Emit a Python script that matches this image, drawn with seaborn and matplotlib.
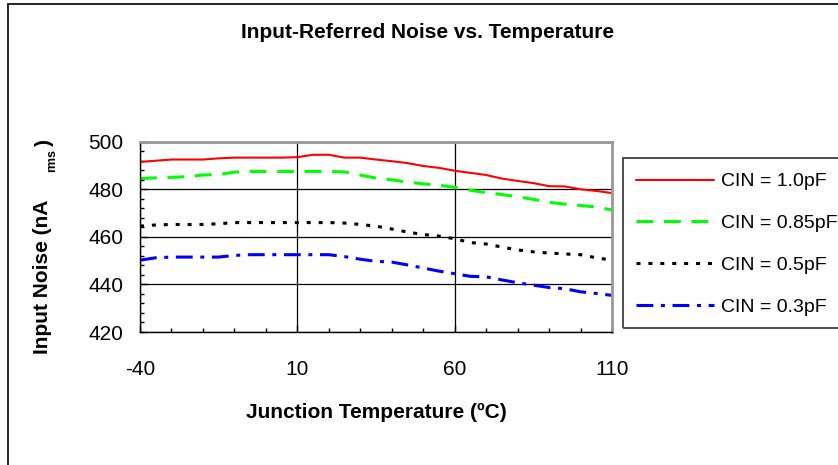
import numpy as np
import pandas as pd
import matplotlib
matplotlib.use('Agg')
import matplotlib.pyplot as plt
from matplotlib.lines import Line2D
from matplotlib.patches import Rectangle
from matplotlib.ticker import FixedLocator, MultipleLocator
import seaborn as sns

sns.set_style('white')
plt.rcParams['font.family'] = ['Liberation Sans', 'DejaVu Sans']
plt.rcParams['text.color'] = 'black'
plt.rcParams['xtick.color'] = 'black'
plt.rcParams['ytick.color'] = 'black'
plt.rcParams['axes.unicode_minus'] = False

# junction temperature, every 5 degC
temps = list(range(-40, 115, 5))
xticks = [-40, 10, 60, 110]

# input noise (nA rms)
cin_10 = [491.5, 492, 492.5, 492.5, 492.5, 493, 493.3, 493.3, 493.3, 493.3,
          493.5, 494.5, 494.5, 493.3, 493.3, 492.5, 491.8, 491, 489.8, 489,
          487.8, 486.9, 486, 484.5, 483.5, 482.6, 481.3, 481.2, 480, 479.3, 478.4]
cin_085 = [484.5, 484.8, 485, 485.3, 486, 486.2, 487.2, 487.5, 487.5, 487.5,
           487.5, 487.5, 487.5, 487.3, 486, 484.7, 484, 483, 482.3, 481.7,
           480.8, 479.6, 478.6, 477.8, 476.8, 475.8, 474.5, 473.8, 473.2, 472.5, 471.3]
cin_05 = [464.5, 465, 465.2, 465.2, 465.2, 465.5, 466, 466, 466, 466,
          466, 466, 466, 465.8, 465.2, 464.5, 463.3, 462, 461, 460.3,
          459.2, 457.6, 457, 455.7, 454.5, 453.7, 453.2, 452.8, 452.5, 451.2, 450.2]
cin_03 = [450.2, 451.2, 451.5, 451.5, 451.5, 451.5, 452.2, 452.5, 452.5, 452.5,
          452.5, 452.5, 452.5, 451.7, 450.6, 449.7, 449.4, 448.2, 446.9, 445.6,
          444.5, 443.4, 443.2, 441.9, 440.7, 439.7, 438.7, 438.2, 436.9, 436.2, 435.4]

labels = ['CIN = 1.0pF', 'CIN = 0.85pF', 'CIN = 0.5pF', 'CIN = 0.3pF']
colors = ['#FF0000', '#00FF00', '#000000', '#0000FF']
styles = ['-', (0, (5.5, 3.5)), (0, (1.3, 2.6)), (0, (5.5, 2.5, 1.3, 2.5))]
widths = [1.5, 2.2, 2.2, 2.2]

fig = plt.figure(figsize=(8.38, 4.65), dpi=100)
ax = fig.add_axes([140/838, 1-332/465, 472/838, 190.3/465])

series = [cin_10, cin_085, cin_05, cin_03]
for vals, lab, col, ls, lw in zip(series, labels, colors, styles, widths):
    sns.lineplot(x=temps, y=vals, color=col, linestyle=ls, lw=lw,
                 label=lab, ax=ax, legend=False)

ax.set_xlim(-40, 110)
ax.set_ylim(420, 500)
ax.xaxis.set_major_locator(FixedLocator(xticks))
ax.xaxis.set_minor_locator(MultipleLocator(10))
ax.yaxis.set_major_locator(MultipleLocator(20))
ax.yaxis.set_minor_locator(MultipleLocator(4))
ax.grid(True, which='major', color='black', lw=0.9)
ax.tick_params(which='both', direction='in', left=True, bottom=True,
               colors='black', labelsize=15)
ax.tick_params(which='major', length=5, width=1)
ax.tick_params(which='minor', length=3, width=1)
ax.tick_params(axis='x', pad=20)
ax.tick_params(axis='y', pad=12)
for s in ['top', 'right']:
    ax.spines[s].set_color('#999999')
    ax.spines[s].set_linewidth(2)
for s in ['left', 'bottom']:
    ax.spines[s].set_color('black')
    ax.spines[s].set_linewidth(1)
ax.set_xlabel('')
ax.set_ylabel('')

# titles and axis labels
fig.text(428/838, 1-32/465, 'Input-Referred Noise vs. Temperature',
         ha='center', va='center', fontsize=15, fontweight='bold')
fig.text(376/838, 1-412/465, 'Junction Temperature (ºC)',
         ha='center', va='center', fontsize=15, fontweight='bold')
fig.text(43/838, 1-277/465, 'Input Noise (nA', rotation=90,
         ha='center', va='center', fontsize=15, fontweight='bold')
fig.text(52/838, 1-161/465, 'rms', rotation=90,
         ha='center', va='center', fontsize=9, fontweight='bold')
fig.text(44/838, 1-142/465, ')', rotation=90,
         ha='center', va='center', fontsize=15, fontweight='bold')

# legend box running off the right edge
fig.patches.append(Rectangle((623/838, 1-328/465), 240/838, 170/465,
                             transform=fig.transFigure, fill=False,
                             edgecolor='#404040', lw=1.3))
handles, labs = ax.get_legend_handles_labels()
fig.legend(handles, labs, loc='upper left',
           bbox_to_anchor=(626/838, 1-163/465), frameon=False,
           fontsize=14, handlelength=4.0, handletextpad=0.4,
           labelspacing=1.25, borderpad=0)

# outer chart border (left and top)
fig.lines.append(Line2D([8/838, 8/838], [0, 1-4/465], transform=fig.transFigure,
                        color='#222222', lw=1.4))
fig.lines.append(Line2D([8/838, 1], [1-4/465, 1-4/465], transform=fig.transFigure,
                        color='#222222', lw=1.4))

fig.savefig('out.png', dpi=100)
